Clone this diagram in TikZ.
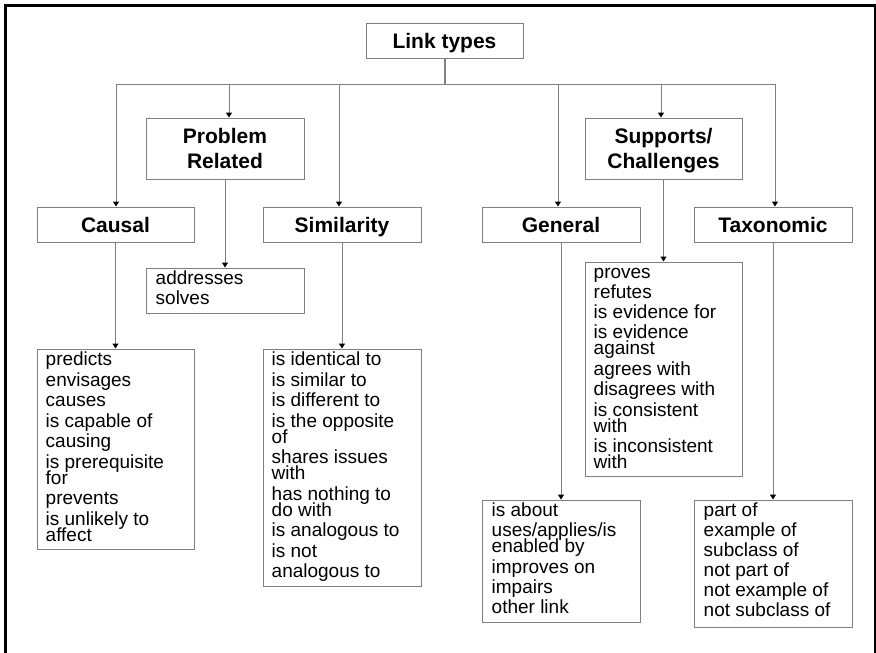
\documentclass[tikz,border=0pt]{standalone}
\usepackage{fontspec}
\setmainfont{Liberation Sans}
\usetikzlibrary{arrows.meta}
\definecolor{linegray}{RGB}{128,128,128}
\newcommand{\hdfont}{\fontsize{21}{25}\selectfont\bfseries}
\newcommand{\lsfont}{\fontsize{19}{16}\selectfont\lineskiplimit=-100pt\relax}
\newcommand{\lst}[1]{\parbox[t]{150pt}{\raggedright\lsfont #1}}
\begin{document}
\begin{tikzpicture}[x=1pt,y=-1pt,
  hbox/.style={draw=linegray, line width=1pt, inner sep=0pt, align=center, font=\hdfont},
  hone/.style={hbox, text height=15pt, text depth=0pt},
  lbox/.style={draw=linegray, line width=1pt, inner sep=0pt},
  ltext/.style={anchor=base west, inner sep=0pt},
  conn/.style={draw=linegray, line width=1pt},
  arr/.style={conn, -{Triangle[length=5pt,width=6pt,color=black]}}]
\useasboundingbox (0,0) rectangle (876,653);
\begin{scope}
\clip (0,0) rectangle (876,653);
\fill[white] (0,0) rectangle (876,653);
\draw[line width=3pt] (5.5,5.5) rectangle (875.5,720);
\end{scope}

% heading boxes
\node[hone, minimum width=157pt, minimum height=35pt] (lt) at (444.5,40.5) {Link types};
\node[hbox, minimum width=158pt, minimum height=61pt] (prob) at (225,148.5) {Problem\\Related};
\node[hbox, minimum width=157pt, minimum height=61pt] (sup) at (663.5,148.5) {Supports/\\Challen\smash{g}es};
\node[hone, minimum width=157pt, minimum height=35pt] (causal) at (115.5,224.5) {Causal};
\node[hone, minimum width=158pt, minimum height=35pt] (sim) at (342,224.5) {Similarity};
\node[hone, minimum width=158pt, minimum height=35pt] (gen) at (561,224.5) {General};
\node[hone, minimum width=158pt, minimum height=35pt] (tax) at (773,224.5) {Taxonomic};

% list boxes
\node[lbox, minimum width=158pt, minimum height=45pt] (addr) at (225,290.5) {};
\node[lbox, minimum width=157pt, minimum height=200pt] (clist) at (115.5,449) {};
\node[lbox, minimum width=158pt, minimum height=237pt] (slist) at (342,467.5) {};
\node[lbox, minimum width=157pt, minimum height=214pt] (suplist) at (663.5,369) {};
\node[lbox, minimum width=158pt, minimum height=122pt] (glist) at (561,561) {};
\node[lbox, minimum width=158pt, minimum height=127pt] (tlist) at (773,563.5) {};

% list texts
\node[ltext] (addrt) at ([shift={(10,17)}]addr.north west)
  {\lst{addresses\\[4pt]solves}};
\node[ltext] (clistt) at ([shift={(9,17)}]clist.north west)
  {\lst{predicts\\[4.5pt]envisages\\[4.5pt]causes\\[4.5pt]is capable of\\[4.5pt]causing\\[4.5pt]is prerequisite\\for\\[4.5pt]prevents\\[4.5pt]is unlikely to\\affect}};
\node[ltext] (slistt) at ([shift={(9,17)}]slist.north west)
  {\lst{is identical to\\[4.5pt]is similar to\\[4.5pt]is different to\\[4.5pt]is the opposite\\of\\[4.5pt]shares issues\\with\\[4.5pt]has nothing to\\do with\\[4.5pt]is analogous to\\[4.5pt]is not\\[4.5pt]analogous to}};
\node[ltext] (suplistt) at ([shift={(9,17)}]suplist.north west)
  {\lst{proves\\[4pt]refutes\\[4pt]is evidence for\\[4pt]is evidence\\against\\[4.5pt]agrees with\\[4.5pt]disagrees with\\[4.5pt]is consistent\\with\\[4.5pt]is inconsistent\\with}};
\node[ltext] (glistt) at ([shift={(10,16.7)}]glist.north west)
  {\lst{is about\\[4pt]uses/applies/is\\enabled by\\[5pt]improves on\\[4pt]impairs\\[4.5pt]other link}};
\node[ltext] (tlistt) at ([shift={(10,16.7)}]tlist.north west)
  {\lst{part of\\[4pt]example of\\[4pt]subclass of\\[4pt]not part of\\[4pt]not example of\\[4pt]not subclass of}};

% tree connectors
\coordinate (bus) at (445,84);
\coordinate (b1) at (116,84);
\coordinate (b2) at (229,84);
\coordinate (b3) at (339,84);
\coordinate (b4) at (558,84);
\coordinate (b5) at (661,84);
\coordinate (b6) at (775,84);
\draw[draw=linegray, line width=2pt] (lt.south -| bus) -- (bus);
\draw[conn] (b1) -- (b6);
\draw[arr] (b1) -- (b1 |- causal.north);
\draw[arr] (b2) -- (b2 |- prob.north);
\draw[arr] (b3) -- (b3 |- sim.north);
\draw[arr] (b4) -- (b4 |- gen.north);
\draw[arr] (b5) -- (b5 |- sup.north);
\draw[arr] (b6) -- (b6 |- tax.north);

% list connectors
\draw[arr] (prob.south) -- (addr.north);
\draw[arr] (causal.south) -- (clist.north);
\draw[arr] (sim.south) -- (slist.north);
\draw[arr] (sup.south) -- (suplist.north);
\draw[arr] (gen.south) -- (glist.north);
\draw[arr] (tax.south) -- (tlist.north);
\end{tikzpicture}
\end{document}
